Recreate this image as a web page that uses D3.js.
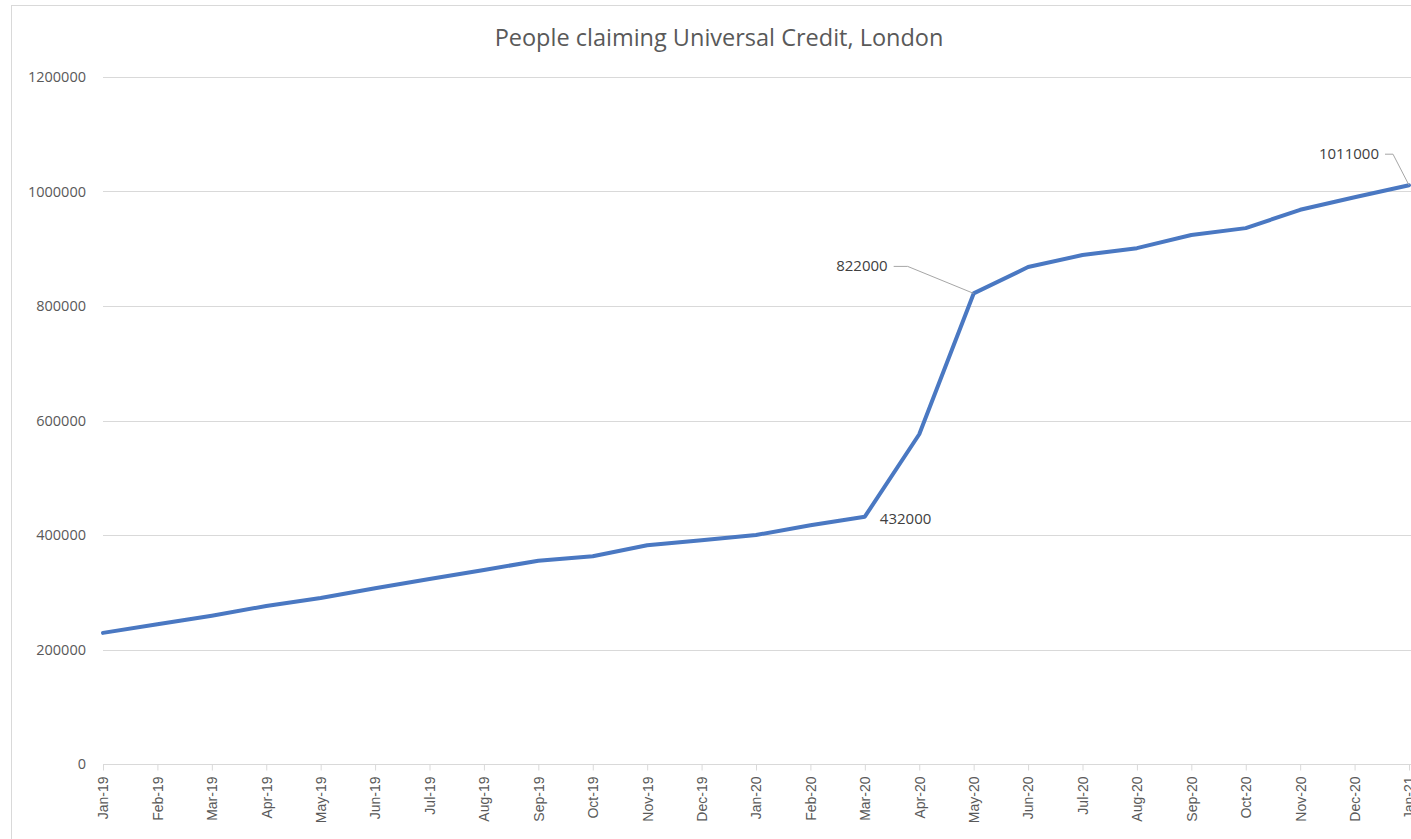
<!DOCTYPE html>
<html lang="en">
<head>
  <meta charset="UTF-8">
  <title>People claiming Universal Credit, London</title>
  <script src="https://d3js.org/d3.v7.min.js"></script>
  <style>
    body { margin: 0; padding: 0; background: #fff; overflow: hidden; }
    svg { display: block; }
    .grid line { stroke: #d9d9d9; stroke-width: 1px; }
    .ylab { font-family: "Open Sans", "Noto Sans", sans-serif; font-size: 14.5px; fill: #595959; }
    .xlab { font-family: "Liberation Sans", Arial, sans-serif; font-size: 14px; fill: #595959; }
    .note { font-family: "Open Sans", "Noto Sans", sans-serif; font-size: 15px; fill: #404040; }
  </style>
</head>
<body>
  <svg id="chart" width="1411" height="839"></svg>

  <script>
    // —— data ——
    const months = ["Jan-19","Feb-19","Mar-19","Apr-19","May-19","Jun-19","Jul-19","Aug-19","Sep-19",
                    "Oct-19","Nov-19","Dec-19","Jan-20","Feb-20","Mar-20","Apr-20","May-20","Jun-20",
                    "Jul-20","Aug-20","Sep-20","Oct-20","Nov-20","Dec-20","Jan-21"];
    const claimants = [229000, 244000, 259000, 276000, 290000, 307000, 323000, 339000, 355000,
                       363000, 382000, 391000, 400000, 417000, 432000, 576000, 822000, 868000,
                       889000, 901000, 924000, 936000, 968000, 990000, 1011000];
    const yTicks = [0, 200000, 400000, 600000, 800000, 1000000, 1200000];

    const svg = d3.select("#chart");
    const W = 1411, H = 839;
    const m = {left: 103, right: 2, top: 77, bottom: 75};

    // chart frame
    svg.append("rect")
      .attr("x", 11.5).attr("y", 5.5)
      .attr("width", W + 20).attr("height", H + 20)
      .attr("fill", "none").attr("stroke", "#d9d9d9");

    const x = d3.scalePoint().domain(months).range([m.left, W - m.right]);
    const y = d3.scaleLinear().domain([0, 1200000]).range([H - m.bottom, m.top]);

    // title
    svg.append("text")
      .attr("x", 719).attr("y", 46)
      .attr("text-anchor", "middle")
      .attr("font-family", "'Open Sans', 'Noto Sans', sans-serif")
      .attr("font-size", 23.5).attr("fill", "#595959")
      .text("People claiming Universal Credit, London");

    // gridlines
    svg.append("g").attr("class", "grid")
      .selectAll("line").data(yTicks.slice(1)).join("line")
      .attr("x1", m.left).attr("x2", W)
      .attr("y1", d => Math.round(y(d)) + 0.5).attr("y2", d => Math.round(y(d)) + 0.5);

    // y labels
    svg.append("g").selectAll("text").data(yTicks).join("text")
      .attr("class", "ylab")
      .attr("x", 86).attr("y", d => y(d) + 5)
      .attr("text-anchor", "end")
      .text(d => d);

    // x axis
    const xAxis = d3.axisBottom(x).tickSize(6).tickPadding(6);
    const xg = svg.append("g")
      .attr("transform", `translate(0,${Math.round(y(0)) + 0.5})`)
      .call(xAxis);
    xg.select(".domain").attr("stroke", "#d9d9d9").attr("d", `M${m.left},0H${W}`);
    xg.selectAll(".tick line").attr("stroke", "#d9d9d9");
    xg.selectAll(".tick text")
      .attr("class", "xlab")
      .attr("fill", null).attr("font-size", null).attr("font-family", null)
      .attr("transform", "rotate(-90)")
      .attr("text-anchor", "end")
      .attr("x", -12).attr("y", 0).attr("dy", "0.35em");

    // line
    const line = d3.line().x((d, i) => x(months[i])).y(d => y(d));
    svg.append("path")
      .datum(claimants)
      .attr("d", line)
      .attr("fill", "none")
      .attr("stroke", "#4a78c2")
      .attr("stroke-width", 4)
      .attr("stroke-linejoin", "round")
      .attr("stroke-linecap", "round");

    // data labels
    const val = k => claimants[months.indexOf(k)];
    const px = k => x(k), py = k => y(val(k));

    // Mar-20: label sits right of the point
    svg.append("text").attr("class", "note")
      .attr("x", px("Mar-20") + 15).attr("y", py("Mar-20") + 7)
      .text(val("Mar-20"));

    // May-20: label up-left with leader
    const mx = px("May-20"), my = py("May-20");
    svg.append("path")
      .attr("d", `M${mx},${my}L${mx - 66},${my - 27}H${mx - 80}`)
      .attr("fill", "none").attr("stroke", "#a6a6a6").attr("stroke-width", 1);
    svg.append("text").attr("class", "note")
      .attr("x", mx - 86).attr("y", my - 22)
      .attr("text-anchor", "end")
      .text(val("May-20"));

    // Jan-21: label up-left with leader
    const jx = px("Jan-21"), jy = py("Jan-21");
    svg.append("path")
      .attr("d", `M${jx},${jy}L${jx - 16},${jy - 31}H${jx - 24}`)
      .attr("fill", "none").attr("stroke", "#a6a6a6").attr("stroke-width", 1);
    svg.append("text").attr("class", "note")
      .attr("x", jx - 30).attr("y", jy - 26)
      .attr("text-anchor", "end")
      .text(val("Jan-21"));
  </script>
</body>
</html>
